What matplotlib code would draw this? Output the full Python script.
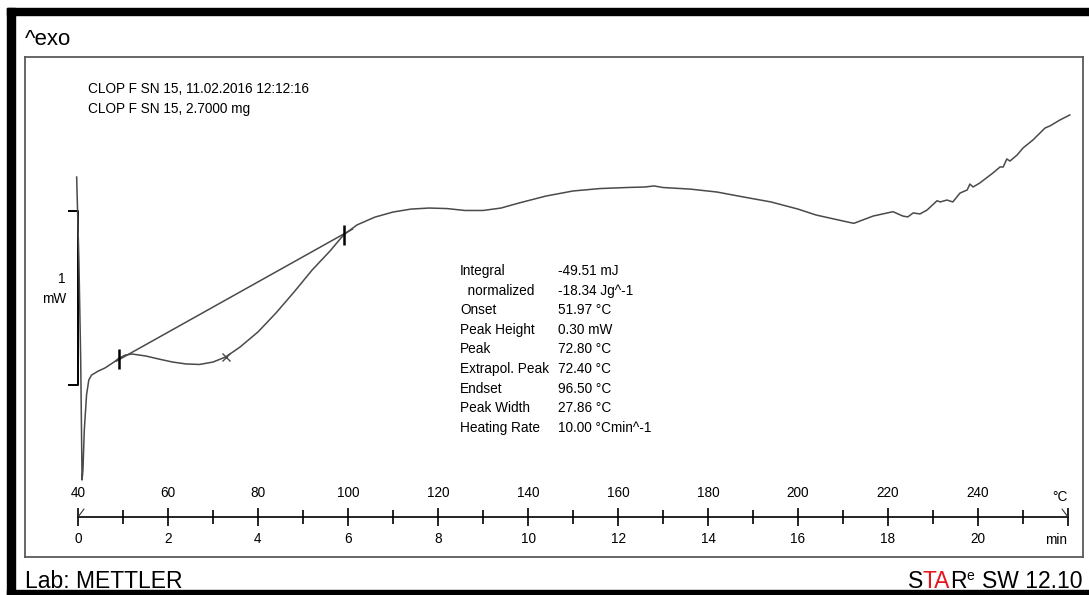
import numpy as np
import matplotlib
matplotlib.use('Agg')
import matplotlib.pyplot as plt
from matplotlib.ticker import FixedLocator, FuncFormatter
from matplotlib.patches import Rectangle

# DSC curve: sample temperature (degC) vs heat flow (mW, arbitrary offset)
temp = [39.7, 40.2, 40.6, 40.9, 41.1, 41.4, 41.9, 42.4, 43.0, 44.5, 46.0, 48.0,
        49.0, 50.5, 52.0, 55.0, 58.0, 61.0, 64.0, 67.0, 70.0, 72.8, 76.0, 80.0,
        84.0, 88.0, 92.0, 96.0, 99.0, 102.0, 106.0, 110.0, 114.0, 118.0, 122.0,
        126.0, 130.0, 134.0, 138.0, 144.0, 150.0, 156.0, 162.0, 166.0, 168.0,
        170.0, 176.0, 182.0, 188.0, 194.0, 200.0, 204.0, 208.0, 212.4, 216.7,
        221.1, 223.3, 224.4, 225.6, 227.1, 228.7, 230.9, 231.6, 233.1, 234.4,
        236.0, 237.6, 238.2, 238.9, 240.4, 243.3, 244.9, 245.6, 246.4, 247.1,
        248.7, 250.0, 252.2, 254.9, 256.0, 258.2, 260.4]
heat_flow = [1.195, 0.718, 0.144, -0.546, -0.489, -0.259, -0.057, 0.029, 0.057,
             0.080, 0.098, 0.132, 0.152, 0.172, 0.178, 0.167, 0.149, 0.132,
             0.121, 0.118, 0.132, 0.161, 0.218, 0.305, 0.414, 0.534, 0.660,
             0.770, 0.862, 0.920, 0.965, 0.994, 1.011, 1.017, 1.014, 1.003,
             1.003, 1.017, 1.046, 1.086, 1.115, 1.129, 1.135, 1.138, 1.144,
             1.135, 1.126, 1.109, 1.080, 1.052, 1.011, 0.977, 0.954, 0.929,
             0.971, 0.996, 0.971, 0.966, 0.989, 0.983, 1.006, 1.059, 1.052,
             1.063, 1.052, 1.103, 1.121, 1.155, 1.138, 1.161, 1.218, 1.253,
             1.253, 1.299, 1.287, 1.322, 1.362, 1.408, 1.477, 1.489, 1.523, 1.552]

# integration baseline and limit markers
baseline_temp = [48.5, 101.0]
baseline_flow = [0.137, 0.896]
limit_temp = [49.0, 99.0]
limit_flow = [0.152, 0.862]
peak_temp = [72.8]
peak_flow = [0.161]

scale_bar_temp = 39.9
scale_bar_mw = [0.0, 1.0]

temp_ticks = [40, 60, 80, 100, 120, 140, 160, 180, 200, 220, 240]
temp_minor = [50, 70, 90, 110, 130, 150, 170, 190, 210, 230, 250]
heating_rate = 10.0  # K/min

title_lines = ["CLOP F SN 15, 11.02.2016 12:12:16", "CLOP F SN 15, 2.7000 mg"]
result_names = ["Integral", "  normalized", "Onset", "Peak Height", "Peak",
                "Extrapol. Peak", "Endset", "Peak Width", "Heating Rate"]
result_values = ["-49.51 mJ", "-18.34 Jg^-1", "51.97 °C", "0.30 mW", "72.80 °C",
                 "72.40 °C", "96.50 °C", "27.86 °C", "10.00 °Cmin^-1"]

W, H = 1089, 595
plt.rcParams['font.family'] = ['Liberation Sans', 'DejaVu Sans']

fig = plt.figure(figsize=(W / 100, H / 100), dpi=100)

# outer black frame
for x0, y0, w, h in [(7, 8, 1082, 7), (7, 8, 8, 587), (7, 590, 1082, 5)]:
    fig.patches.append(Rectangle((x0 / W, 1 - (y0 + h) / H), w / W, h / H,
                                 transform=fig.transFigure, color='black', zorder=0))

box_l, box_r, box_t, box_b = 25, 1083, 57, 557
pos = [box_l / W, 1 - box_b / H, (box_r - box_l) / W, (box_b - box_t) / H]
ax = fig.add_axes(pos)
xlim = (40 + (box_l - 78) / 4.5, 40 + (box_r - 78) / 4.5)
ax.set_xlim(*xlim)
ax.set_ylim((385 - box_b) / 174, (385 - box_t) / 174)
ax.set_xticks([])
ax.set_yticks([])
for s in ax.spines.values():
    s.set_color('#5a5a5a')
    s.set_linewidth(1.3)

ax.plot(temp, heat_flow, color='#4a4a4a', lw=1.1, zorder=3)
ax.plot(baseline_temp, baseline_flow, color='#4a4a4a', lw=1.1, zorder=3)
ax.plot(limit_temp, limit_flow, ls='none', marker='|', ms=14, mew=1.8,
        color='black', zorder=4)
ax.plot(peak_temp, peak_flow, ls='none', marker='x', ms=6, mew=1.0,
        color='#4a4a4a', zorder=4)
ax.plot([scale_bar_temp - 1.8, scale_bar_temp, scale_bar_temp, scale_bar_temp - 1.8],
        [scale_bar_mw[1], scale_bar_mw[1], scale_bar_mw[0], scale_bar_mw[0]],
        color='black', lw=1.4, zorder=2)


def axf(px, py):
    return (px - box_l) / (box_r - box_l), (box_b - py) / (box_b - box_t)


fs = 9.8
ax.text(*axf(62, 279), "1", ha='center', va='center', fontsize=fs,
        transform=ax.transAxes)
ax.text(*axf(54, 299), "mW", ha='center', va='center', fontsize=fs,
        transform=ax.transAxes)

for i, line in enumerate(title_lines):
    ax.text(*axf(88, 89 + 19.5 * i), line, ha='left', va='center', fontsize=fs,
            transform=ax.transAxes)

for i, (n, v) in enumerate(zip(result_names, result_values)):
    yy = 271 + 19.6 * i
    ax.text(*axf(460, yy), n, ha='left', va='center', fontsize=fs,
            transform=ax.transAxes)
    ax.text(*axf(558, yy), v, ha='left', va='center', fontsize=fs,
            transform=ax.transAxes)

# temperature / time ruler
ruler_y = 517
ax2 = fig.add_axes([pos[0], 1 - ruler_y / H, pos[2], 1e-4])
ax2.set_xlim(*xlim)
ax2.patch.set_visible(False)
for k in ['top', 'left', 'right']:
    ax2.spines[k].set_visible(False)
ax2.spines['bottom'].set_bounds(40, 260)
ax2.spines['bottom'].set_linewidth(1.2)
ax2.set_yticks([])
ax2.xaxis.set_major_locator(FixedLocator(temp_ticks + [260]))
ax2.xaxis.set_minor_locator(FixedLocator(temp_minor))
ax2.xaxis.set_major_formatter(FuncFormatter(
    lambda T, p: '' if T > 250 else f"{(T - 40) / heating_rate:.0f}"))
ax2.tick_params(axis='x', which='major', direction='inout', length=13, width=1.2,
                pad=4, labelsize=fs)
ax2.tick_params(axis='x', which='minor', direction='inout', length=10, width=1.2)

sec = ax2.secondary_xaxis('top')
sec.spines['top'].set_visible(False)
sec.xaxis.set_major_locator(FixedLocator(temp_ticks))
sec.xaxis.set_minor_locator(FixedLocator([]))
sec.tick_params(axis='x', length=0, pad=12, labelsize=fs)

ax2.annotate("°C", xy=(260, 0), xycoords=('data', 'axes fraction'),
             xytext=(0, 13), textcoords='offset pixels', ha='right', va='bottom',
             fontsize=fs)
ax2.annotate("min", xy=(260, 0), xycoords=('data', 'axes fraction'),
             xytext=(-1, -16), textcoords='offset pixels', ha='right', va='top',
             fontsize=fs)
# direction slashes at the ruler ends
ax2.annotate("", xy=(40, 0), xycoords=('data', 'axes fraction'),
             xytext=(6, 8), textcoords='offset pixels',
             arrowprops=dict(arrowstyle='-', lw=0.8, color='#333333',
                             shrinkA=0, shrinkB=0))
ax2.annotate("", xy=(260, 0), xycoords=('data', 'axes fraction'),
             xytext=(-6, 8), textcoords='offset pixels',
             arrowprops=dict(arrowstyle='-', lw=0.8, color='#333333',
                             shrinkA=0, shrinkB=0))

# header / footer texts
fig.text(25 / W, 1 - 45 / H, "^exo", ha='left', va='baseline', fontsize=16)
fig.text(25 / W, 1 - 588 / H, "Lab: METTLER", ha='left', va='baseline', fontsize=16.5)

fig.canvas.draw()
renderer = fig.canvas.get_renderer()
parts = [("S", 'black', 16.5, 0), ("TA", '#e8141b', 16.5, 0), ("R", 'black', 16.5, 0),
         ("e", 'black', 10, -8), ("SW 12.10", 'black', 16.5, 0)]
x_right = 1082
for txt, col, size, dy in reversed(parts):
    t = fig.text(x_right / W, 1 - (588 + dy) / H, txt, color=col, fontsize=size,
                 ha='right', va='baseline')
    bb = t.get_window_extent(renderer)
    x_right = bb.x0 - (7 if txt.startswith("SW") else 0)

fig.savefig('out.png', dpi=100)
